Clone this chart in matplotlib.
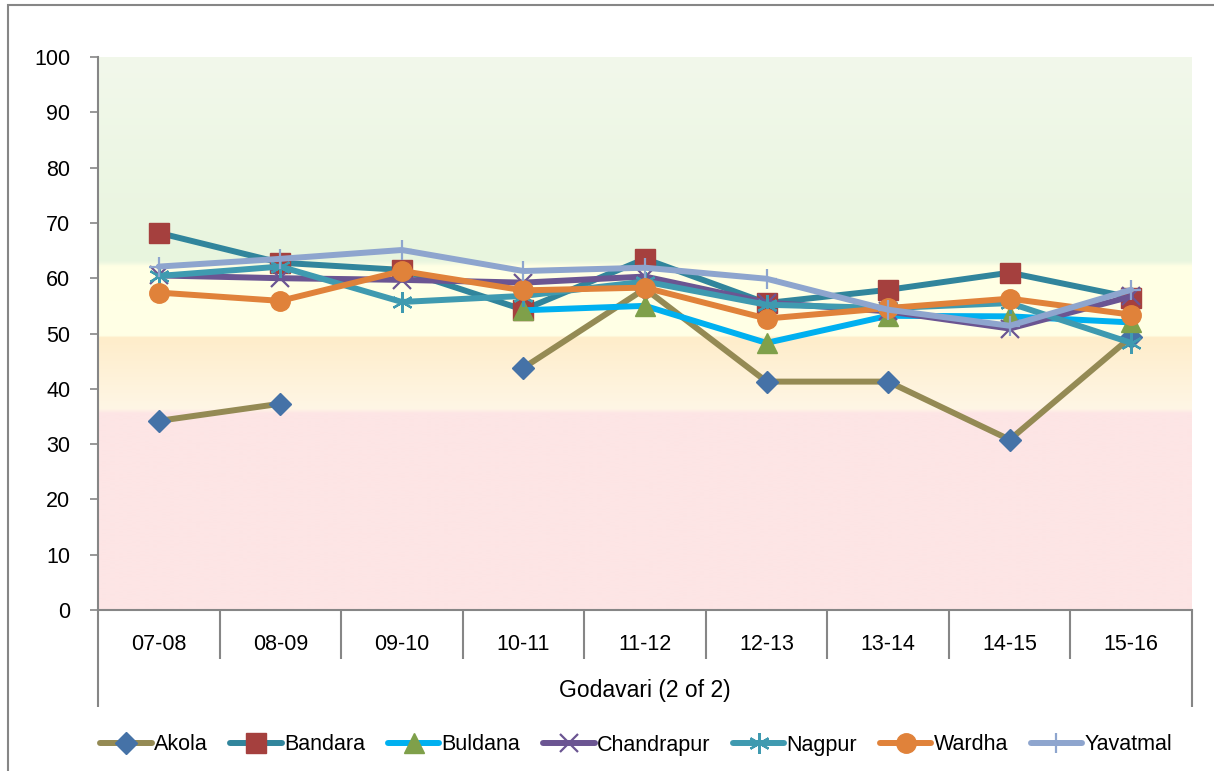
import numpy as np
import matplotlib
matplotlib.use("Agg")
import matplotlib.pyplot as plt
from matplotlib.patches import Rectangle

# category labels and group label
years = ["07-08", "08-09", "09-10", "10-11", "11-12", "12-13", "13-14", "14-15", "15-16"]
group_label = "Godavari (2 of 2)"

# series values (nan = no value)
nan = np.nan
akola      = [34.2, 37.3, nan, 43.8, 58.1, 41.3, 41.3, 30.8, 49.4]
bandara    = [68.2, 62.8, 61.5, 54.3, 63.5, 55.5, 57.9, 61.0, 56.5]
buldana    = [nan, nan, nan, 54.2, 55.0, 48.3, 53.2, 53.1, 52.0]
chandrapur = [60.5, 60.0, 59.7, 59.2, 60.3, 55.6, 54.0, 50.9, 56.7]
nagpur     = [60.4, 62.1, 55.7, 56.8, 59.4, 55.2, 54.6, 55.5, 48.3]
wardha     = [57.4, 55.9, 61.3, 57.8, 58.3, 52.7, 54.6, 56.3, 53.4]
yavatmal   = [62.1, 63.5, 65.1, 61.3, 61.9, 59.9, 54.3, 51.4, 57.9]

series = [
    ("Akola", akola),
    ("Bandara", bandara),
    ("Buldana", buldana),
    ("Chandrapur", chandrapur),
    ("Nagpur", nagpur),
    ("Wardha", wardha),
    ("Yavatmal", yavatmal),
]

# style per series: line colour, marker, marker colour, marker size, marker edge width
styles = {
    "Akola":      ("#948A54", "D", "#4572A7", 11, 1.0),
    "Bandara":    ("#31859C", "s", "#A5403E", 14, 1.0),
    "Buldana":    ("#00B0F0", "^", "#7FA04A", 14, 1.0),
    "Chandrapur": ("#6B5592", "x", "#6B5592", 13, 1.6),
    "Nagpur":     ("#3F9AB0", (6, 2, 0), "#3F9AB0", 15, 1.6),
    "Wardha":     ("#E0823A", "o", "#E0823A", 14, 1.0),
    "Yavatmal":   ("#8EA5CE", "+", "#8EA5CE", 14, 1.6),
}

plt.rcParams["font.family"] = ["Liberation Sans", "DejaVu Sans"]
plt.rcParams["font.size"] = 15.5
GRAY = "#868686"

fig = plt.figure(figsize=(12.14, 7.71), dpi=100)
ax = fig.add_axes([98 / 1214, 1 - 610 / 771, (1192 - 98) / 1214, (610 - 57) / 771])

# outer chart border
fig.add_artist(Rectangle((8 / 1214, -0.5), 2.0, 0.5 + 1 - 5 / 771, transform=fig.transFigure,
                         fill=False, edgecolor=GRAY, linewidth=1.5))

# banded background (green / yellow / orange / pink)
yy = np.linspace(0, 100, 1001)
anchors = [0, 35.6, 36.4, 49.3, 49.6, 62.2, 62.6, 63.2, 100]
cols = np.array([
    (253, 229, 229), (253, 229, 229), (255, 246, 229), (254, 237, 202),
    (255, 255, 230), (255, 255, 228), (244, 250, 226), (232, 245, 222), (242, 248, 235),
]) / 255.0
img = np.stack([np.interp(yy, anchors, cols[:, k]) for k in range(3)], axis=-1)[:, None, :]
ax.imshow(img, extent=[-0.5, len(years) - 0.5, 0, 100], origin="lower",
          aspect="auto", zorder=0, interpolation="bilinear")

x = np.arange(len(years))
for name, vals in series:
    lc, mk, mc, ms, mew = styles[name]
    ax.plot(x, vals, color=lc, lw=4.3, marker=mk, markersize=ms,
            markerfacecolor=mc, markeredgecolor=mc, markeredgewidth=mew,
            label=name, zorder=3, solid_capstyle="round", solid_joinstyle="round")

ax.set_xlim(-0.5, len(years) - 0.5)
ax.set_ylim(0, 100)
ax.set_yticks(np.arange(0, 101, 10))
ax.tick_params(axis="y", direction="out", length=6, width=1.2, color=GRAY, pad=14)
ax.set_xticks(x, years)
ax.tick_params(axis="x", length=0, pad=17)

for s in ["top", "right"]:
    ax.spines[s].set_visible(False)
for s in ["left", "bottom"]:
    ax.spines[s].set_color(GRAY)
    ax.spines[s].set_linewidth(1.5)

# category box separators and outer group lines
h = 610 - 57
tr = ax.get_xaxis_transform()
ax.vlines(np.arange(0.5, len(years) - 1, 1), -49 / h, 0, transform=tr,
          colors=GRAY, lw=1.5, clip_on=False)
ax.vlines([-0.5, len(years) - 0.5], -97 / h, 0, transform=tr,
          colors=GRAY, lw=1.5, clip_on=False)
ax.text((len(years) - 1) / 2, -80 / h, group_label, transform=tr,
        ha="center", va="center", fontsize=16.5)

fig.legend(loc="center", bbox_to_anchor=(0.524, 1 - 745 / 771), ncol=7,
           frameon=False, handlelength=2.4, handletextpad=0.1, columnspacing=1.05,
           borderaxespad=0)

fig.savefig("out.png", dpi=100)
